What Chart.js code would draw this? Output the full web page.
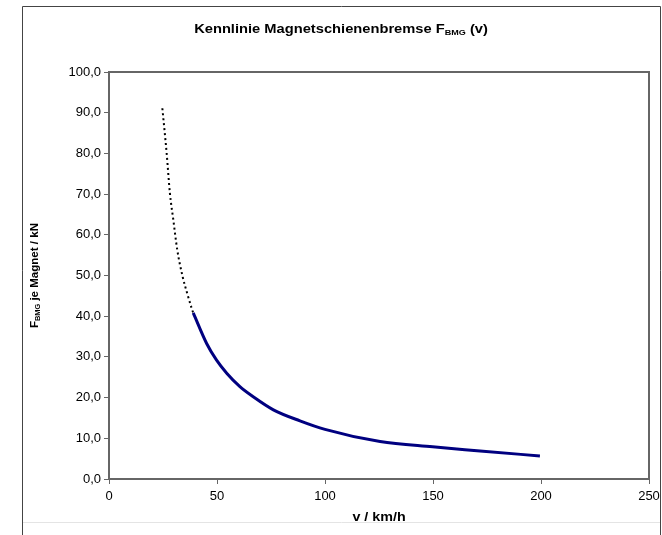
<!DOCTYPE html>
<html>
<head>
<meta charset="utf-8">
<script src="https://cdn.jsdelivr.net/npm/chart.js@4"></script>
<style>
  html, body { margin: 0; padding: 0; background: #fff; }
  #wrap { width: 662px; height: 535px; }
</style>
</head>
<body>
<div id="wrap"><canvas id="c" width="662" height="535"></canvas></div>
<script>
// ---- data ----
const dottedSpeed = [24.7, 26.7, 28.2, 29.8, 31.6, 34.1, 36.2, 38.3, 39.0];
const dottedForce = [91.1, 80.0, 70.2, 63.6, 56.3, 49.7, 45.6, 41.9, 40.8];
const solidSpeed  = [39.0, 45.2, 49.8, 54.5, 60.6, 66.8, 76.1, 88.4, 100.0, 125.5, 149.8, 171.8, 199.5];
const solidForce  = [40.8, 33.3, 29.2, 26.0, 22.7, 20.2, 17.0, 14.3, 12.2, 9.2, 7.9, 6.9, 5.65];
const xTicks = [0, 50, 100, 150, 200, 250];
const yTicks = [0, 10, 20, 30, 40, 50, 60, 70, 80, 90, 100];
const titleMain = "Kennlinie Magnetschienenbremse F";
const titleSub = "BMG";
const titleEnd = " (v)";
const yTitleMain = "F";
const yTitleSub = "BMG";
const yTitleEnd = " je Magnet / kN";
const xTitle = "v / km/h";

const FONT = "'Liberation Sans', Arial, sans-serif";

function toPoints(xs, ys) { return xs.map((x, i) => ({ x: x, y: ys[i] })); }

function drawSubText(ctx, main, sub, end, cx, baseline, size, subSize, stretch) {
  ctx.save();
  ctx.translate(cx, baseline);
  ctx.scale(stretch, 1);
  ctx.font = "bold " + size + "px " + FONT;
  const w1 = ctx.measureText(main).width;
  const w3 = ctx.measureText(end).width;
  ctx.font = "bold " + subSize + "px " + FONT;
  const w2 = sub ? ctx.measureText(sub).width : 0;
  let x = -(w1 + w2 + w3) / 2;
  ctx.textAlign = "left";
  ctx.textBaseline = "alphabetic";
  ctx.font = "bold " + size + "px " + FONT;
  ctx.fillText(main, x, 0); x += w1;
  if (sub) {
    ctx.font = "bold " + subSize + "px " + FONT;
    ctx.fillText(sub, x, 2); x += w2;
  }
  ctx.font = "bold " + size + "px " + FONT;
  ctx.fillText(end, x, 0);
  ctx.restore();
}

const framePlugin = {
  id: "framePlugin",
  beforeDraw(chart) {
    const ctx = chart.ctx;
    ctx.save();
    ctx.fillStyle = "#fff";
    ctx.fillRect(0, 0, chart.width, chart.height);
    ctx.strokeStyle = "#444";
    ctx.lineWidth = 1;
    ctx.beginPath();
    ctx.moveTo(22.5, 535); ctx.lineTo(22.5, 6.5); ctx.lineTo(660.5, 6.5); ctx.lineTo(660.5, 535);
    ctx.stroke();
    ctx.strokeStyle = "#e4e4e4";
    ctx.beginPath();
    ctx.moveTo(23, 522.5); ctx.lineTo(660, 522.5);
    ctx.stroke();
    ctx.restore();
  },
  beforeDatasetsDraw(chart) {
    const a = chart.chartArea;
    const ctx = chart.ctx;
    ctx.save();
    ctx.strokeStyle = "#666";
    ctx.lineWidth = 2;
    ctx.strokeRect(a.left, a.top, a.right - a.left, a.bottom - a.top);
    ctx.restore();
  },
  afterDraw(chart) {
    const ctx = chart.ctx;
    const a = chart.chartArea;
    ctx.save();
    ctx.fillStyle = "#000";
    drawSubText(ctx, titleMain, titleSub, titleEnd, 341, 33, 13, 8, 1.13);
    drawSubText(ctx, xTitle, "", "", (a.left + a.right) / 2, 521, 13, 8, 1.1);
    ctx.translate(38, (a.top + a.bottom) / 2);
    ctx.rotate(-Math.PI / 2);
    drawSubText(ctx, yTitleMain, yTitleSub, yTitleEnd, 0, 0, 11, 7, 1.05);
    ctx.restore();
  }
};

new Chart(document.getElementById("c"), {
  type: "scatter",
  data: {
    datasets: [
      {
        label: "dotted",
        data: toPoints(dottedSpeed, dottedForce),
        showLine: true,
        borderColor: "#000",
        borderWidth: 2,
        borderDash: [2, 3],
        pointRadius: 0,
        cubicInterpolationMode: "monotone"
      },
      {
        label: "solid",
        data: toPoints(solidSpeed, solidForce),
        showLine: true,
        borderColor: "#000080",
        borderWidth: 3,
        pointRadius: 0,
        cubicInterpolationMode: "monotone"
      }
    ]
  },
  options: {
    responsive: false,
    animation: false,
    layout: { padding: { left: 0, top: 72, right: 13, bottom: 0 } },
    plugins: { legend: { display: false }, tooltip: { enabled: false }, title: { display: false } },
    scales: {
      x: {
        type: "linear",
        min: 0, max: 250,
        afterBuildTicks(scale) { scale.ticks = xTicks.map(v => ({ value: v })); },
        afterFit(scale) { scale.height = 56; scale.paddingLeft = 0; scale.paddingRight = 0; },
        ticks: { color: "#000", font: { family: FONT, size: 13 }, padding: 5, maxRotation: 0,
                 callback: v => String(v) },
        grid: { drawOnChartArea: false, drawTicks: true, tickLength: 5, color: "#666", lineWidth: 1 },
        border: { display: true, color: "#666", width: 2 }
      },
      y: {
        type: "linear",
        min: 0, max: 100,
        afterBuildTicks(scale) { scale.ticks = yTicks.map(v => ({ value: v })); },
        afterFit(scale) { scale.width = 109; scale.paddingTop = 0; scale.paddingBottom = 0; },
        ticks: { color: "#000", font: { family: FONT, size: 13 }, padding: 3,
                 callback: v => v.toFixed(1).replace(".", ",") },
        grid: { drawOnChartArea: false, drawTicks: true, tickLength: 5, color: "#666", lineWidth: 1 },
        border: { display: true, color: "#666", width: 2 }
      }
    }
  },
  plugins: [framePlugin]
});
</script>
</body>
</html>
